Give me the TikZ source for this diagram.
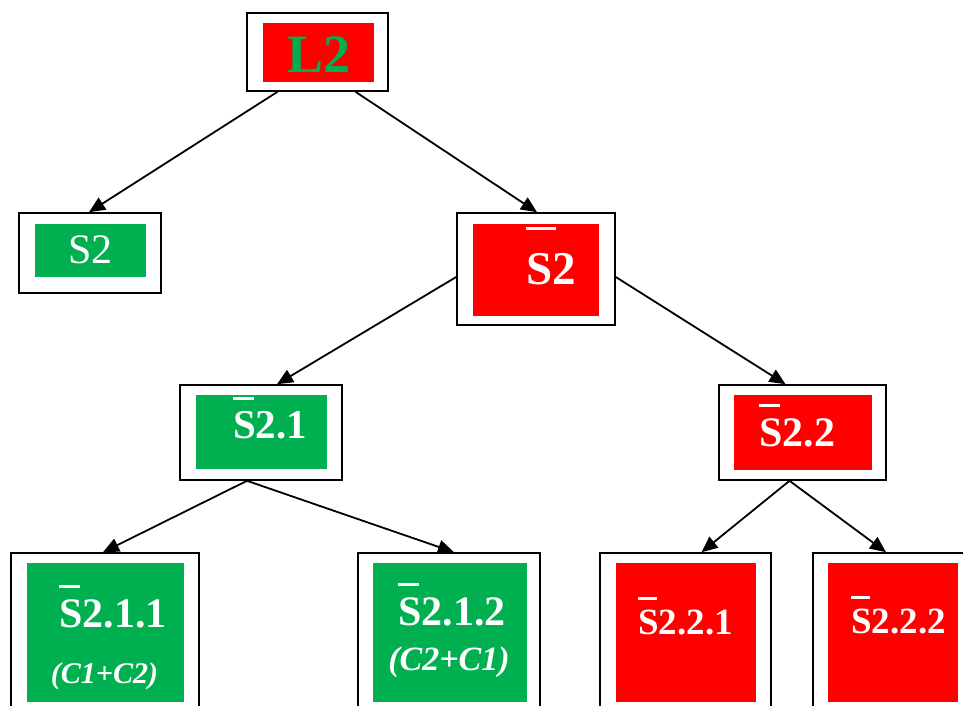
\documentclass[tikz,border=0pt]{standalone}
\usepackage{fontspec}
\setmainfont{Liberation Serif}
\usepackage{xcolor}
\usetikzlibrary{arrows.meta}
\definecolor{sgreen}{HTML}{00B050}
\definecolor{sred}{HTML}{FF0000}
\newcommand\ovS[2][0.5em]{\rlap{\rule[#2]{#1}{0.07em}}S}
\newcommand\fs[1]{\fontsize{#1}{#1}\selectfont}

\begin{document}
\begin{tikzpicture}[x=1pt,y=-1pt,
  outbox/.style={draw=black, line width=1.6pt, fill=white, inner sep=0pt},
  ingreen/.style={fill=sgreen, inner sep=0pt},
  inred/.style={fill=sred, inner sep=0pt},
  lbl/.style={text=white, inner sep=0pt, anchor=base west},
  arr/.style={-{Triangle[length=16pt,width=14pt]}, line width=1.8pt},
]
\useasboundingbox (0,0) rectangle (963,706);
\clip (0,0) rectangle (963,706);

% top
\node[outbox, minimum width=141, minimum height=78] (l2) at (317.5,52) {};
\node[inred, minimum width=111, minimum height=59] (l2in) at (318.5,52.5) {};
\node[lbl, text=sgreen, font=\bfseries\fs{54}] (l2t) at (287,73) {L2};

% second row
\node[outbox, minimum width=142, minimum height=80] (s2) at (90,253) {};
\node[ingreen, minimum width=111, minimum height=53] (s2in) at (90.5,250.5) {};
\node[lbl, font=\fs{42}] (s2t) at (68,263) {S2};

\node[outbox, minimum width=158, minimum height=112] (s2b) at (536,269) {};
\node[inred, minimum width=126, minimum height=92] (s2bin) at (536,270) {};
\node[lbl, font=\bfseries\fs{47}] (s2bt) at (526,284) {\ovS[0.64em]{1.15em}2};

% third row
\node[outbox, minimum width=162, minimum height=95] (s21) at (261,432.5) {};
\node[ingreen, minimum width=131, minimum height=74] (s21in) at (261.5,432) {};
\node[lbl, font=\bfseries\fs{41}] (s21t) at (233,438) {\ovS{0.93em}2.1};

\node[outbox, minimum width=167, minimum height=95] (s22) at (802.5,432.5) {};
\node[inred, minimum width=138, minimum height=75] (s22in) at (803,432.5) {};
\node[lbl, font=\bfseries\fs{42}] (s22t) at (759,446) {\ovS{0.93em}2.2};

% bottom row
\node[outbox, minimum width=188, minimum height=160] (s211) at (105,633) {};
\node[ingreen, minimum width=157, minimum height=139] (s211in) at (105.5,632.5) {};
\node[lbl, font=\bfseries\fs{42}] (s211t) at (59,627) {\ovS{0.93em}2.1.1};
\node[lbl, anchor=base, font=\bfseries\itshape\fs{30}] (s211c) at (104.5,683) {(C1+C2)};

\node[outbox, minimum width=182, minimum height=160] (s212) at (449,633) {};
\node[ingreen, minimum width=154, minimum height=139] (s212in) at (450,632.5) {};
\node[lbl, font=\bfseries\fs{42}] (s212t) at (398,625) {\ovS{0.93em}2.1.2};
\node[lbl, anchor=base, font=\bfseries\itshape\fs{34}] (s212c) at (449,670) {(C2+C1)};

\node[outbox, minimum width=171, minimum height=160] (s221) at (685.5,633) {};
\node[inred, minimum width=140, minimum height=139] (s221in) at (686,632.5) {};
\node[lbl, font=\bfseries\fs{37}] (s221t) at (638,634) {\ovS{0.93em}2.2.1};

\node[outbox, minimum width=162, minimum height=160] (s222) at (894,633) {};
\node[inred, minimum width=130, minimum height=139] (s222in) at (893,632.5) {};
\node[lbl, font=\bfseries\fs{37}] (s222t) at (851,633) {\ovS{0.93em}2.2.2};

% arrows
\draw[arr] ([xshift=-40pt]l2.south) -- ([xshift=-1pt]s2.north);
\draw[arr] ([xshift=38pt]l2.south) -- ([xshift=1pt]s2b.north);
\draw[arr] ([yshift=-8pt]s2b.west) -- ([xshift=16pt]s21.north);
\draw[arr] ([yshift=-8pt]s2b.east) -- ([xshift=-17pt]s22.north);
\draw[arr] ([xshift=-14pt]s21.south) -- ([xshift=-2pt]s211.north);
\draw[arr] ([xshift=-14pt]s21.south) -- ([xshift=5pt]s212.north);
\draw[arr] ([xshift=-13pt]s22.south) -- ([xshift=16pt]s221.north);
\draw[arr] ([xshift=-13pt]s22.south) -- ([xshift=-8pt]s222.north);
\end{tikzpicture}
\end{document}
